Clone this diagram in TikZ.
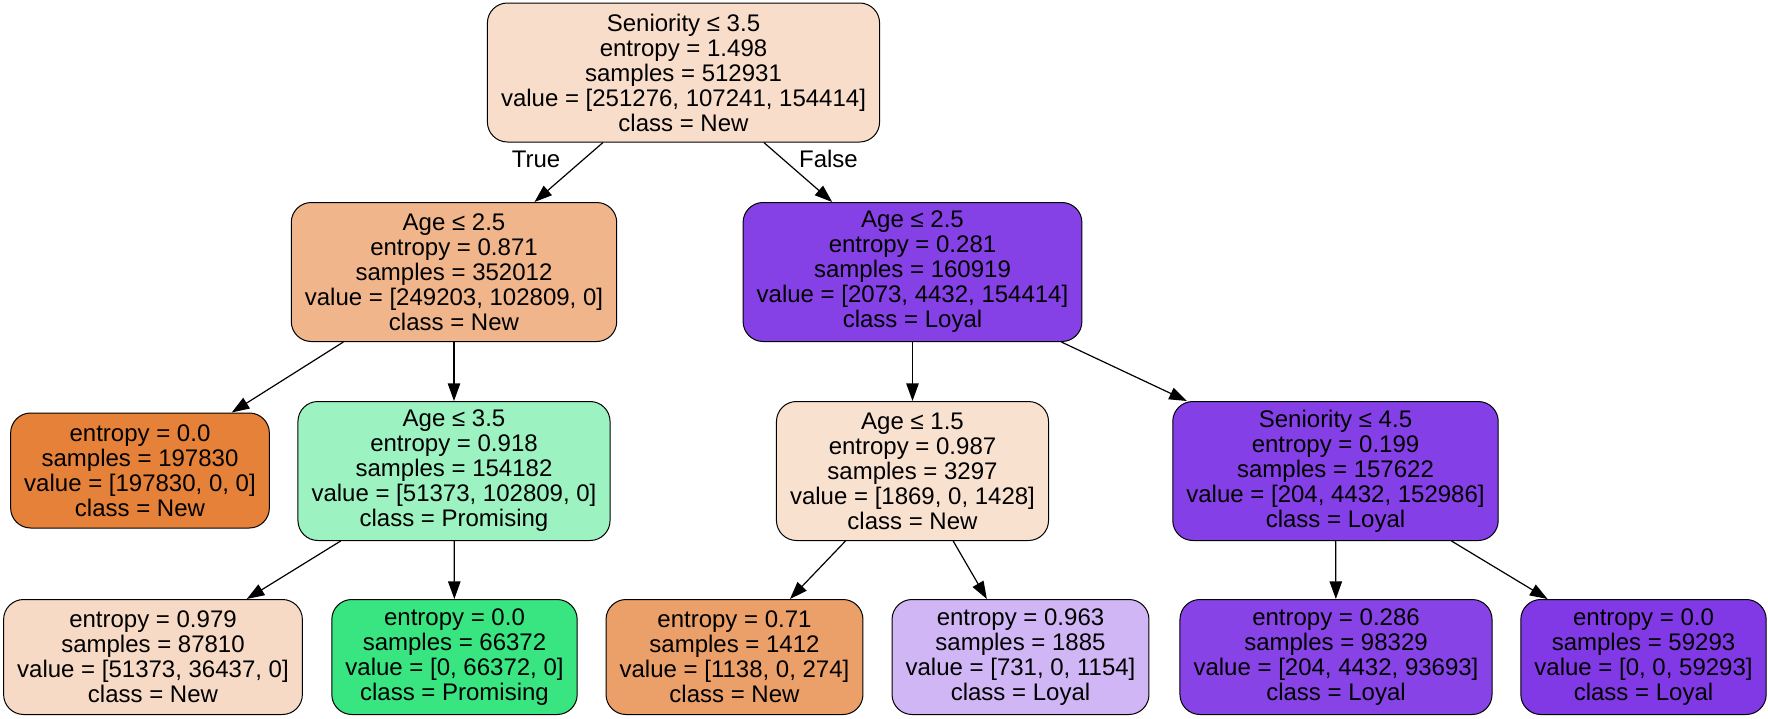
\documentclass[tikz,border=0pt]{standalone}
\usepackage{fontspec}
\setmainfont{Liberation Sans}
\usetikzlibrary{arrows.meta}

\definecolor{cRoot}{HTML}{F8DDCA}
\definecolor{cAgeA}{HTML}{F0B58B}
\definecolor{cAgeB}{HTML}{8641E6}
\definecolor{cNewPure}{HTML}{E58139}
\definecolor{cAgeD}{HTML}{9CF2C0}
\definecolor{cAgeE}{HTML}{F9E1D0}
\definecolor{cSenF}{HTML}{853FE6}
\definecolor{cLeafG}{HTML}{F7DAC5}
\definecolor{cPromPure}{HTML}{39E581}
\definecolor{cLeafI}{HTML}{EB9F69}
\definecolor{cLeafJ}{HTML}{D1B6F5}
\definecolor{cLeafK}{HTML}{8743E6}
\definecolor{cLoyalPure}{HTML}{8139E5}

\begin{document}
\begin{tikzpicture}
    [x=0.5pt, y=-0.5pt,
     box/.style={draw, line width=0.5pt, rounded corners=10pt, align=center,
                 inner xsep=6.8pt, font=\fontsize{12}{12.5}\selectfont},
     split/.style={box, minimum height=69.5pt},
     leaf/.style={box, minimum height=57.5pt},
     edge/.style={-{Triangle[length=8.8pt,width=6.2pt]}, line width=0.6pt},
     lbl/.style={font=\fontsize{12}{12.5}\selectfont}]

    \path [use as bounding box, fill=white] (0, 0) rectangle (1768, 718);

    \node [split, fill=cRoot] at (683.5, 72.5) (n0)
      {Seniority ≤ 3.5\\entropy = 1.498\\samples = 512931\\value = [251276, 107241, 154414]\\class = New};

    \node [split, fill=cAgeA] at (454, 272) (n1a)
      {Age ≤ 2.5\\entropy = 0.871\\samples = 352012\\value = [249203, 102809, 0]\\class = New};
    \node [split, fill=cAgeB] at (912.5, 272) (n1b)
      {Age ≤ 2.5\\entropy = 0.281\\samples = 160919\\value = [2073, 4432, 154414]\\class = Loyal};

    \node [leaf, fill=cNewPure] at (140, 470.5) (n2a)
      {entropy = 0.0\\samples = 197830\\value = [197830, 0, 0]\\class = New};
    \node [split, fill=cAgeD] at (454, 471) (n2b)
      {Age ≤ 3.5\\entropy = 0.918\\samples = 154182\\value = [51373, 102809, 0]\\class = Promising};
    \node [split, fill=cAgeE] at (912.5, 471) (n2c)
      {Age ≤ 1.5\\entropy = 0.987\\samples = 3297\\value = [1869, 0, 1428]\\class = New};
    \node [split, fill=cSenF] at (1335.5, 471) (n2d)
      {Seniority ≤ 4.5\\entropy = 0.199\\samples = 157622\\value = [204, 4432, 152986]\\class = Loyal};

    \node [leaf, fill=cLeafG] at (153, 657) (n3a)
      {entropy = 0.979\\samples = 87810\\value = [51373, 36437, 0]\\class = New};
    \node [leaf, fill=cPromPure] at (454.5, 657) (n3b)
      {entropy = 0.0\\samples = 66372\\value = [0, 66372, 0]\\class = Promising};
    \node [leaf, fill=cLeafI] at (734.5, 657) (n3c)
      {entropy = 0.71\\samples = 1412\\value = [1138, 0, 274]\\class = New};
    \node [leaf, fill=cLeafJ] at (1020.5, 657) (n3d)
      {entropy = 0.963\\samples = 1885\\value = [731, 0, 1154]\\class = Loyal};
    \node [leaf, fill=cLeafK] at (1336, 657) (n3e)
      {entropy = 0.286\\samples = 98329\\value = [204, 4432, 93693]\\class = Loyal};
    \node [leaf, fill=cLoyalPure] at (1643.5, 657) (n3f)
      {entropy = 0.0\\samples = 59293\\value = [0, 0, 59293]\\class = Loyal};

    \draw [edge] (n0) -- (n1a);
    \draw [edge] (n0) -- (n1b);

    \node [lbl] at (536, 159) (ltrue) {True};
    \node [lbl] at (828.5, 159) (lfalse) {False};

    \draw [edge] (n1a) -- (n2a);
    \draw [edge] (n1a) -- (n2b);
    \draw [edge] (n1b) -- (n2c);
    \draw [edge] (n1b) -- (n2d);

    \draw [edge] (n2b) -- (n3a);
    \draw [edge] (n2b) -- (n3b);
    \draw [edge] (n2c) -- (n3c);
    \draw [edge] (n2c) -- (n3d);
    \draw [edge] (n2d) -- (n3e);
    \draw [edge] (n2d) -- (n3f);

  \end{tikzpicture}
\end{document}
